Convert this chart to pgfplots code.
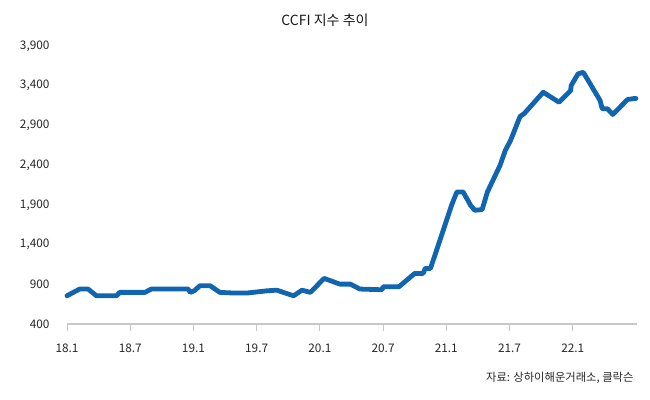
\documentclass[border=0pt]{standalone}
\usepackage{pgfplots}
\pgfplotsset{compat=1.18}
\usepackage{fontspec}
\setmainfont{Noto Sans CJK KR}
\definecolor{lineblue}{RGB}{16,100,176}
\definecolor{gridgray}{RGB}{200,200,200}
\begin{document}
\begin{tikzpicture}[x=1pt,y=1pt]
\useasboundingbox (0,0) rectangle (650,399);
\begin{axis}[
  at={(67pt,75pt)}, anchor=south west,
  scale only axis, width=570pt, height=278pt,
  xmin=0, xmax=54.1, ymin=400, ymax=3900,
  ytick={400,900,...,3900},
  xtick={0,6,12,18,24,30,36,42,48},
  xticklabels={18.1,18.7,19.1,19.7,20.1,20.7,21.1,21.7,22.1},
  axis y line=none, axis x line*=bottom,
  x axis line style={draw=gridgray, line width=1.2pt, -},
  ymajorgrids, grid style={draw=gridgray, line width=1.2pt},
  xtick style={draw=gridgray, line width=1pt},
  xtick pos=bottom, tick align=outside, major tick length=7pt,
  /pgf/number format/assume math mode=true,
  /pgf/number format/1000 sep={,},
  ticklabel style={font=\fontsize{11.8}{13}\selectfont, text=black!85},
  xticklabel style={yshift=-9pt},
  clip=false,
]
\pgfplotsinvokeforeach{400,900,1400,1900,2400,2900,3400,3900}{
  \node[anchor=east, font=\fontsize{11.8}{13}\selectfont, text=black!85] at (axis cs:0,#1) [xshift=-14pt] {\pgfmathprintnumber[1000 sep={,}]{#1}};
}
\addplot[lineblue, line width=4.8pt, line join=round, line cap=round] coordinates {
(0,755) (1.2,840) (2,840) (2.8,755) (4.7,755) (5.0,798) (7.4,798) (8.0,840)
(11.5,840) (11.7,798) (12.1,820) (12.6,881) (13.6,881) (14.5,798) (15.8,790)
(17.1,790) (19.0,818) (19.9,826) (21.5,755) (22.3,826) (23.1,798) (24.4,974)
(25.9,902) (26.9,902) (27.8,840) (29.9,831) (30.0,868) (31.5,868) (33.0,1037)
(33.8,1037) (34.0,1100) (34.5,1100) (36.5,1895) (37.0,2062) (37.6,2062)
(38.3,1895) (38.7,1832) (39.4,1840) (39.9,2062) (41.1,2397) (41.6,2585)
(42.1,2711) (43.0,3013) (43.4,3050) (45.2,3318) (46.7,3192) (47.8,3339)
(47.85,3402) (48.5,3549) (49.0,3569) (50.6,3213) (50.8,3109) (51.3,3109)
(51.8,3038) (53.2,3226) (53.8,3238) (54.0,3240)
};
\end{axis}
\node[font=\fontsize{14}{16}\selectfont, text=black!90] at (325,379) {CCFI 지수 추이};
\node[anchor=east, font=\fontsize{11.3}{13}\selectfont, text=black!85] at (637,21) {자료: 상하이해운거래소, 클락슨};
\end{tikzpicture}
\end{document}
